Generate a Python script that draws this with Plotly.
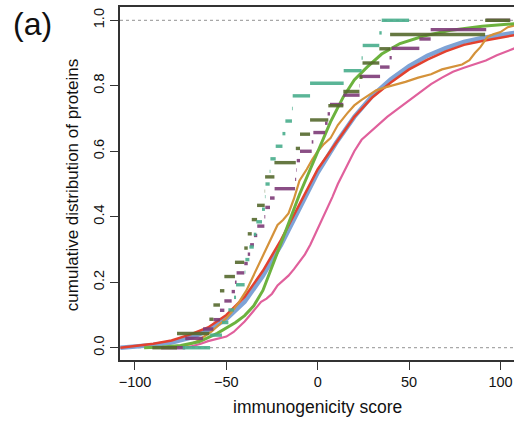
import plotly.graph_objects as go

# ---- data ----
# smooth ECDFs (large samples): x positions and cumulative fraction
red_x = [-108, -100, -90, -80, -70, -60, -50, -40, -30, -20, -10, 0, 10, 20, 30, 40, 50, 60, 70, 80, 90, 100, 108]
red_F = [0.0, 0.005, 0.012, 0.022, 0.04, 0.062, 0.1, 0.155, 0.235, 0.33, 0.44, 0.545, 0.625, 0.705, 0.765, 0.81, 0.85, 0.88, 0.905, 0.925, 0.937, 0.947, 0.955]

blue_x = [-108, -100, -90, -80, -70, -60, -50, -40, -30, -20, -10, 0, 10, 20, 30, 40, 50, 60, 70, 80, 90, 100, 108]
blue_F = [0.0, 0.003, 0.008, 0.016, 0.03, 0.052, 0.088, 0.14, 0.22, 0.315, 0.425, 0.535, 0.625, 0.705, 0.77, 0.82, 0.86, 0.892, 0.915, 0.934, 0.946, 0.956, 0.962]

green_x = [-95, -85, -75, -65, -55, -45, -40, -35, -30, -26, -19, -10, 0, 7, 14, 20, 27, 35, 45, 58, 72, 90, 108]
green_F = [0.0, 0.002, 0.007, 0.018, 0.044, 0.077, 0.098, 0.128, 0.175, 0.232, 0.335, 0.468, 0.6, 0.69, 0.766, 0.818, 0.857, 0.897, 0.929, 0.952, 0.969, 0.982, 0.99]

# step ECDFs (medium samples)
orange_x = [-80, -74, -70, -66, -62, -58, -54, -50, -47, -43, -39, -36, -34, -31, -28, -25, -22, -19, -16, -13, -10, -6, -3, 0, 3, 7, 11, 16, 20, 24, 28, 32, 37, 42, 48, 55, 62, 68, 74, 79, 83, 86, 89, 91, 93, 96, 100, 104, 108]
orange_F = [0.0, 0.005, 0.01, 0.02, 0.035, 0.05, 0.07, 0.09, 0.11, 0.14, 0.175, 0.21, 0.235, 0.265, 0.3, 0.34, 0.375, 0.39, 0.41, 0.455, 0.51, 0.545, 0.575, 0.6, 0.62, 0.64, 0.68, 0.715, 0.74, 0.757, 0.772, 0.786, 0.795, 0.802, 0.812, 0.825, 0.835, 0.85, 0.858, 0.865, 0.878, 0.9, 0.918, 0.935, 0.95, 0.957, 0.964, 0.979, 0.985]

pink_x = [-72, -68, -64, -60, -55, -50, -46, -43, -40, -37, -34, -31, -28, -25, -22, -19, -16, -13, -10, -7, -4, -1, 2, 5, 8, 11, 14, 17, 20, 24, 28, 33, 38, 44, 50, 56, 62, 68, 74, 80, 86, 92, 98, 103, 108]
pink_F = [0.0, 0.005, 0.012, 0.02, 0.027, 0.034, 0.048, 0.064, 0.08, 0.1, 0.12, 0.14, 0.15, 0.165, 0.19, 0.205, 0.22, 0.24, 0.262, 0.285, 0.315, 0.35, 0.385, 0.42, 0.46, 0.5, 0.535, 0.565, 0.6, 0.635, 0.655, 0.68, 0.705, 0.73, 0.755, 0.78, 0.805, 0.825, 0.843, 0.855, 0.866, 0.877, 0.893, 0.905, 0.915]

# small samples: sorted scores (ECDF knots)
teal_vals = [-58.9, -52.4, -48.9, -45.8, -44.7, -40.0, -39.6, -37.4, -35.0, -33.6, -30.5, -28.9, -28.6, -26.3, -25.9, -23.0, -19.3, -17.7, -14.1, -13.7, -4.2, 14.2, 24.0, 24.6, 33.7, 35.0]
olive_vals = [-77.0, -59.3, -57.1, -53.5, -51.1, -45.3, -40.2, -38.3, -36.1, -33.2, -29.0, -28.8, -23.7, -12.0, -9.7, -4.2, 5.8, 14.0, 22.8, 24.5, 33.7, 39.6, 91.6]
purple_vals = [-72.5, -62.8, -57.1, -53.5, -51.1, -47.1, -45.3, -44.4, -40.2, -38.3, -37.0, -34.9, -33.1, -29.2, -28.7, -26.1, -23.6, -12.4, -11.8, -11.5, -9.7, -3.3, -2.4, 4.0, 5.4, 6.7, 14.0, 22.9, 23.1, 34.1, 39.3, 40.5, 55.6, 61.8, 92.2]

x_ticks = [-100, -50, 0, 50, 100]
y_ticks = [0.0, 0.2, 0.4, 0.6, 0.8, 1.0]
y_ticklabels = ["0.0", "0.2", "0.4", "0.6", "0.8", "1.0"]

X_RANGE = [-108.2, 107.4]
Y_RANGE = [-0.0375, 1.0406]


def ecdf_segments(vals, ext):
    n = len(vals)
    xs, ys = [], []
    knots = [vals[0] - ext] + list(vals) + [vals[-1] + ext]
    for i in range(n + 1):
        lvl = i / n
        xs += [knots[i], knots[i + 1], None]
        ys += [lvl, lvl, None]
    return xs, ys


fig = go.Figure()

# dashed reference lines at 0 and 1
for h in (0.0, 1.0):
    fig.add_trace(go.Scatter(x=X_RANGE, y=[h, h], mode="lines",
                             line=dict(color="#a8a8a8", width=1.2, dash="3px,3px"),
                             hoverinfo="skip", showlegend=False))

fig.add_trace(go.Scatter(x=blue_x, y=blue_F, mode="lines", line=dict(color="#7ea3d6", width=4.5), showlegend=False))
fig.add_trace(go.Scatter(x=red_x, y=red_F, mode="lines", line=dict(color="#e2412f", width=2.5), showlegend=False))
fig.add_trace(go.Scatter(x=orange_x, y=orange_F, mode="lines", line=dict(color="#d4923a", width=2.2), showlegend=False))
fig.add_trace(go.Scatter(x=pink_x, y=pink_F, mode="lines", line=dict(color="#e0609c", width=2.2), showlegend=False))
fig.add_trace(go.Scatter(x=green_x, y=green_F, mode="lines", line=dict(color="#6cb23e", width=3), showlegend=False))

for vals, col, ext in ((purple_vals, "#7e3b78", 13.2), (olive_vals, "#566a2e", 13.5), (teal_vals, "#49ae8c", 15.0)):
    sx, sy = ecdf_segments(vals, ext)
    fig.add_trace(go.Scatter(x=sx, y=sy, mode="lines", line=dict(color=col, width=3.4),
                             opacity=0.9, showlegend=False))

font_family = "Liberation Sans, Arial, Helvetica, sans-serif"

fig.update_layout(
    width=514, height=421,
    margin=dict(l=120, r=0, t=7, b=61),
    paper_bgcolor="white", plot_bgcolor="white",
    font=dict(family=font_family, size=14, color="#111"),
    xaxis=dict(range=X_RANGE, tickvals=x_ticks, ticktext=[("\u2212" + str(-v)) if v < 0 else str(v) for v in x_ticks],
               showgrid=False, zeroline=False, showline=True, mirror=True, linecolor="#333", linewidth=1.5,
               ticks="outside", ticklen=8, tickwidth=1.2, tickcolor="#333",
               tickfont=dict(size=14.5)),
    yaxis=dict(range=Y_RANGE, tickvals=y_ticks, ticktext=y_ticklabels,
               showgrid=False, zeroline=False, showline=True, mirror=False, linecolor="#333", linewidth=1.5,
               ticks="outside", ticklen=8, tickwidth=1.2, tickcolor="#333", tickangle=-90,
               tickfont=dict(size=14.5)),
    annotations=[
        dict(text="(a)", xref="paper", yref="paper", x=(11 - 120) / 394, y=(360 - 4) / 353.3,
             xanchor="left", yanchor="top", showarrow=False, font=dict(size=32)),
        dict(text="cumulative distribution of proteins", xref="paper", yref="paper",
             x=(72 - 120) / 394, y=(360 - 185) / 353.3, textangle=-90,
             xanchor="center", yanchor="middle", showarrow=False, font=dict(size=17)),
        dict(text="immunogenicity score", xref="paper", yref="paper",
             x=0.5, y=(360 - 407) / 353.3, xanchor="center", yanchor="middle",
             showarrow=False, font=dict(size=17.5)),
    ],
)

fig.write_html("out.html")
